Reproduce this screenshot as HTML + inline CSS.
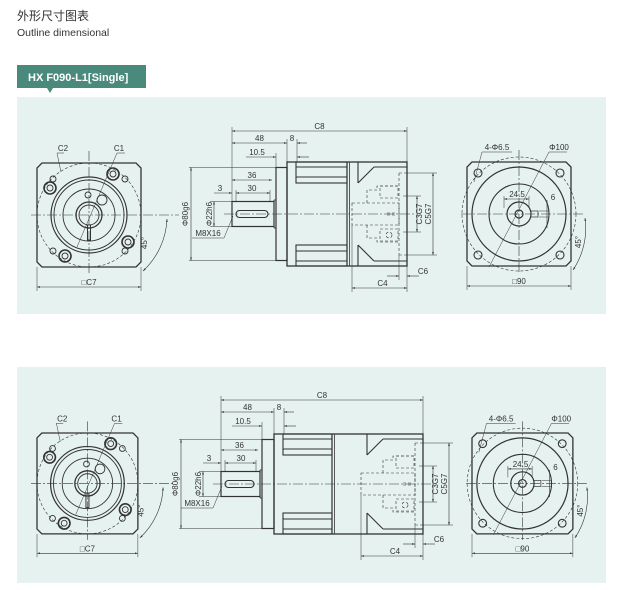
<!DOCTYPE html>
<html><head><meta charset="utf-8"><style>
html,body{margin:0;padding:0;background:#fff;width:618px;height:590px;overflow:hidden}
svg{display:block}
text{font-family:"Liberation Sans","Noto Sans CJK SC",sans-serif;fill:#333}
</style></head><body>
<svg id="s" width="618" height="590" viewBox="0 0 618 590" xmlns="http://www.w3.org/2000/svg">
<defs>
<marker id="a" viewBox="0 0 10 10" refX="10" refY="5" markerWidth="5" markerHeight="5" orient="auto-start-reverse"><path d="M0,2 L10,5 L0,8 z" fill="#333"/></marker>
</defs>
<rect x="17" y="97" width="589" height="217" fill="#e6f2f0"/>
<rect x="17" y="367" width="589" height="216" fill="#e6f2f0"/>
<text x="17" y="20" font-size="12" font-family="Noto Sans CJK SC,sans-serif" fill="#333">外形尺寸图表</text>
<text x="17" y="36" font-size="10.5" fill="#444">Outline dimensional</text>
<path d="M17,65 H146 V88 H53 L50,93 L47,88 H17 Z" fill="#4a8a7c"/>
<text x="28" y="81" font-size="11" font-weight="bold" fill="#fff" style="fill:#fff">HX F090-L1[Single]</text>
<g id="g" stroke="#333" stroke-width="0.9" fill="none"></g>
</svg>
<script>
var g=document.getElementById('g'),S=document.getElementById('s'),NS='http://www.w3.org/2000/svg';
function el(t,a,p){var e=document.createElementNS(NS,t);for(var k in a)e.setAttribute(k,a[k]);(p||g).appendChild(e);return e}
function L(x1,y1,x2,y2,o){var a={x1:x1,y1:y1,x2:x2,y2:y2};for(var k in o)a[k]=o[k];return el('line',a)}
function C(cx,cy,r,o){var a={cx:cx,cy:cy,r:r};for(var k in o)a[k]=o[k];return el('circle',a)}
function R(x,y,w,h,o){var a={x:x,y:y,width:w,height:h};for(var k in o)a[k]=o[k];return el('rect',a)}
function P(d,o){var a={d:d};for(var k in o)a[k]=o[k];return el('path',a)}
function T(x,y,s,sz,rot){var a={x:x,y:y,'font-size':sz||8,stroke:'none','text-anchor':'middle'};if(rot)a.transform='rotate(-90 '+x+' '+y+')';var e=el('text',a,S);e.textContent=s;return e}
var DD={'stroke-dasharray':'10 2 2 2','stroke-width':0.6};
var DS={'stroke-dasharray':'3 2','stroke-width':0.6};
var TH={'stroke-width':0.5};
function dim(x1,y1,x2,y2){L(x1,y1,x2,y2,{'marker-start':'url(#a)','marker-end':'url(#a)','stroke-width':0.6})}
function sq(x0,y0,s,c){P('M'+(x0+c)+','+y0+'H'+(x0+s-c)+'L'+(x0+s)+','+(y0+c)+'V'+(y0+s-c)+'L'+(x0+s-c)+','+(y0+s)+'H'+(x0+c)+'L'+x0+','+(y0+s-c)+'V'+(y0+c)+'Z',{'stroke-width':1.3})}
function frontL(x0,y0,k){var s=104*k,cx=x0+s/2,cy=y0+s/2;sq(x0,y0,s,5*k);
 L(cx,y0-12*k,cx,y0+s+6,DD);L(x0-6,cy,x0+s+38*k,cy,DD);
 C(cx,cy,52*k,DS);C(cx,cy,38*k,{'stroke-width':1.2});C(cx,cy,35*k);C(cx,cy,26*k);
 C(cx,cy,13*k,{'stroke-width':1.3});C(cx,cy,10*k);
 R(cx-1.5,cy+10*k,3,15*k,{'stroke-width':1});C(cx-1*k,cy-20*k,3*k);C(cx+13*k,cy-15*k,5*k);
 [[-39,-27],[24,-41],[39,27],[-24,41]].forEach(function(p){C(cx+p[0]*k,cy+p[1]*k,6*k,{'stroke-width':1.6});C(cx+p[0]*k,cy+p[1]*k,3*k)});
 [[-36,-36],[36,-36],[36,36],[-36,36]].forEach(function(p){C(cx+p[0]*k,cy+p[1]*k,3*k)});
 L(x0+20*k,y0-10*k,x0+24*k,y0+9*k,TH);L(x0+27*k,y0-10*k,x0+20*k,y0-10*k,TH);T(x0+26*k,y0-12*k,'C2');
 L(x0+80*k,y0-10*k,x0+40*k,y0+84*k,TH);L(x0+80*k,y0-10*k,x0+88*k,y0-10*k,TH);T(x0+82*k,y0-12*k,'C1');
 P('M'+(x0+s+26*k)+','+(cy+4)+' A'+(s*0.72)+','+(s*0.72)+' 0 0 1 '+(x0+s+2)+','+(y0+s+4),{'stroke-width':0.6,'marker-start':'url(#a)','marker-end':'url(#a)'});
 T(x0+s+6*k,cy+28*k,'45°',8,true);
 L(x0,y0+s,x0,y0+s+24*k,TH);L(x0+s,y0+s,x0+s,y0+s+24*k,TH);dim(x0,y0+s+20*k,x0+s,y0+s+20*k);T(cx,y0+s+18*k,'□C7');}
function frontR(x0,y0,k){var s=104*k,cx=x0+s/2,cy=y0+s/2;sq(x0,y0,s,5*k);
 L(cx,y0-12*k,cx,y0+s+6,DD);L(x0-6,cy,x0+s+14,cy,DD);
 C(cx,cy,57*k,DS);C(cx,cy,47*k,{'stroke-width':1.2});C(cx,cy,30*k,{'stroke-width':1.1});C(cx,cy,12*k,{'stroke-width':1.2});C(cx,cy,4*k,{'stroke-width':1.2});
 [[-41,-41],[41,-41],[41,41],[-41,41]].forEach(function(p){C(cx+p[0]*k,cy+p[1]*k,4*k,{'stroke-width':1.1})});
 R(cx+12*k,cy-3,7*k,6,{'stroke-width':0.7});
 L(cx-15*k,cy-18*k,cx-15*k,cy-6,TH);L(cx+10*k,cy-18*k,cx+10*k,cy-6,TH);dim(cx-15*k,cy-15*k,cx+10*k,cy-15*k);T(cx-2*k,cy-17*k,'24.5');
 L(cx+20*k,cy-3,cx+30*k,cy-3,TH);L(cx+20*k,cy+3,cx+30*k,cy+3,TH);L(cx+28*k,cy-14*k,cx+28*k,cy+14*k,{'stroke-width':0.6});T(cx+34*k,cy-14*k,'6');
 L(x0+15*k,y0-10*k,x0+7*k,y0+20*k,TH);L(x0+15*k,y0-10*k,x0+45*k,y0-10*k,TH);T(x0+30*k,y0-12*k,'4-Φ6.5');
 L(x0+82*k,y0-10*k,x0+22*k,y0+105*k,TH);L(x0+82*k,y0-10*k,x0+100*k,y0-10*k,TH);T(x0+92*k,y0-12*k,'Φ100');
 P('M'+(x0+s+14)+','+(cy+4)+' A'+(s*0.72)+','+(s*0.72)+' 0 0 1 '+(x0+s+2)+','+(y0+s+4),{'stroke-width':0.6,'marker-start':'url(#a)','marker-end':'url(#a)'});
 T(x0+s+10,cy+28*k,'45°',8,true);
 L(x0,y0+s,x0,y0+s+24*k,TH);L(x0+s,y0+s,x0+s,y0+s+24*k,TH);dim(x0,y0+s+20*k,x0+s,y0+s+20*k);T(cx,y0+s+18*k,'□90');}
function side(p){var cy=p.cy,B=p.bh,F=p.fh,xs=p.x0,xf=p.xf,xb=p.xb,xe=p.xe,m1=p.m1,m2=p.m2;
 // shaft
 R(xs,cy-12.5,xf-2-xs,25,{'stroke-width':1.2});L(xf-2,cy-14,xf-2,cy+14);L(xf-2,cy-14,xf,cy-14);L(xf-2,cy+14,xf,cy+14);
 R(xs+4,cy-3.5,(xf-xs)-12,7,{rx:3.5,'stroke-width':1.1});
 R(xf,cy-F,xb-xf,2*F,{'stroke-width':1.2});R(xb,cy-B,xe-xb,2*B,{'stroke-width':1.3});
 L(m1,cy-B,m1,cy+B,{'stroke-width':1.2});L(m1+2.5,cy-B,m1+2.5,cy+B,{'stroke-width':0.8});
 var fx=xb+9;[[-1,1]].forEach(function(){});
 [-1,1].forEach(function(d){var y1=cy+d*B,y2=cy+d*(B-21);R(fx,Math.min(y1,y2),m1-fx,21,{'stroke-width':1.1});
  L(fx,cy+d*(B-5),m1,cy+d*(B-5));L(fx,cy+d*(B-15),m1,cy+d*(B-15));
  L(m2,y1,m2,y2,{'stroke-width':1.1});L(m2,y2,m2+16,cy+d*(B-5),{'stroke-width':1.1});L(m2+16,cy+d*(B-5),xe,cy+d*(B-5),{'stroke-width':1.1});});
 L(xs-8,cy,xe+8,cy,DD);
 // dashed internals
 L(xe-8,cy-41,xe,cy-41,DS);L(xe-8,cy+41,xe,cy+41,DS);L(xe-8,cy-41,xe-8,cy+41,DS);
 R(m2-6,cy-11,xe-m2-2,22,DS);
 P('M'+(xe-40)+','+(cy-11)+'V'+(cy-24)+'H'+(xe-30)+'V'+(cy-28)+'H'+(xe-8),DS);
 P('M'+(xe-40)+','+(cy+11)+'V'+(cy+24)+'H'+(xe-30)+'V'+(cy+28)+'H'+(xe-8),DS);
 R(xe-27,cy-28,18,12,DS);R(xe-27,cy+15,18,12,DS);C(xe-18,cy+21,3,DS);
 L(xe-20,cy-1,xe-10,cy-1,DS);L(xe-20,cy+1,xe-10,cy+1,DS);
 // dims top
 var yt=p.yt;L(xs,cy-12.5,xs,yt-4,TH);L(xe,cy-B,xe,yt-4,TH);dim(xs,yt,xe,yt);T((xs+xe)/2,yt-2,'C8');
 L(xb,cy-B,xb,yt+8,TH);L(xb+10,cy-B,xb+10,yt+8,TH);dim(xs,yt+12,xb,yt+12);T((xs+xb)/2,yt+10,'48');
 L(xb+10,yt+12,xb+20,yt+12,{'stroke-width':0.6,'marker-start':'url(#a)'});T(xb+5,yt+10,'8');
 L(xf,cy-F,xf,yt+22,TH);L(xf-30,yt+26,xf,yt+26,{'stroke-width':0.6,'marker-end':'url(#a)'});L(xb+10,yt+26,xb+22,yt+26,{'stroke-width':0.6,'marker-start':'url(#a)'});T(xf-19,yt+24,'10.5');
 dim(xs,cy-34,xf-4,cy-34);T((xs+xf)/2-2,cy-36,'36');
 dim(xs+4,cy-21,xf-6,cy-21);T(xs+20,cy-23,'30');L(xs-18,cy-21,xs,cy-21,{'stroke-width':0.6,'marker-end':'url(#a)'});T(xs-12,cy-23,'3');
 L(xs+4,cy-24,xs+4,cy-12,TH);L(xf-6,cy-24,xf-6,cy-12,TH);
 // left dims
 var xl=p.xl;L(xl-2,cy-F,xf,cy-F,TH);L(xl-2,cy+F,xf,cy+F,TH);dim(xl,cy-F,xl,cy+F);T(xl-3,cy,'Φ80g6',8,true);
 L(xs-22,cy-12.5,xs,cy-12.5,TH);L(xs-22,cy+12.5,xs,cy+12.5,TH);dim(xs-18,cy-12.5,xs-18,cy+12.5);T(xs-20,cy,'Φ22h6',8,true);
 L(xs+1,cy+2,xs-8,cy+24,TH);L(xs-8,cy+24,xs-40,cy+24,TH);T(xs-24,cy+22,'M8X16');
 // right dims
 L(xe,cy-41,xe+30,cy-41,TH);L(xe,cy+41,xe+30,cy+41,TH);dim(xe+26,cy-41,xe+26,cy+41);T(xe+24,cy,'C5G7',8,true);
 L(xe-4,cy-18,xe+14,cy-18,TH);L(xe-4,cy+18,xe+14,cy+18,TH);dim(xe+10,cy-18,xe+10,cy+18);T(xe+15,cy,'C3G7',8,true);
 L(m2-6,cy+11,m2-6,cy+B+26,TH);L(xe,cy+B,xe,cy+B+26,TH);dim(m2-6,cy+B+22,xe,cy+B+22);T((m2+xe)/2,cy+B+20,'C4');
 L(xe-8,cy+41,xe-8,cy+B+14,TH);L(xe-20,cy+B+10,xe-8,cy+B+10,{'stroke-width':0.6,'marker-end':'url(#a)'});L(xe,cy+B+10,xe+12,cy+B+10,{'stroke-width':0.6,'marker-start':'url(#a)'});T(xe+16,cy+B+8,'C6');
}
frontL(37,163,1);frontR(467,162,1);
frontL(37,433,0.97);frontR(472,433,0.97);
side({cy:214,bh:52,fh:46.5,x0:232,xf:276,xb:287,xe:407,m1:347,m2:358,yt:131,xl:191});
side({cy:484,bh:50,fh:44.5,x0:221,xf:262,xb:274,xe:423,m1:332,m2:367,yt:400,xl:181});
</script>
</body></html>
